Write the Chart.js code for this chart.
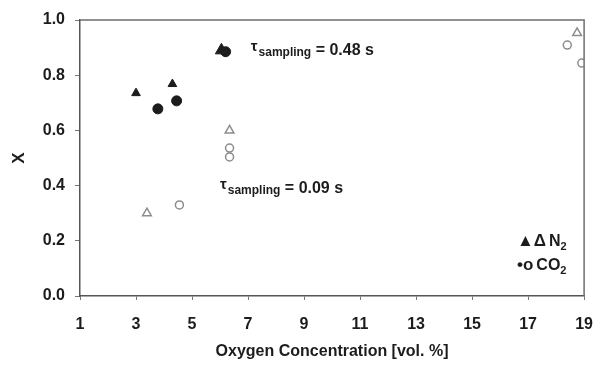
<!DOCTYPE html>
<html>
<head>
<meta charset="utf-8">
<script src="https://cdn.jsdelivr.net/npm/chart.js@4.4.1/dist/chart.umd.min.js"></script>
<style>
  html, body { margin: 0; padding: 0; background: #fff; }
  #wrap { width: 608px; height: 365px; position: relative; }
</style>
</head>
<body>
<div id="wrap"><canvas id="conv"></canvas></div>
<script>
// tau_sampling = 0.48 s (filled symbols)
const slowN2X = [3.0, 4.3, 6.05];
const slowN2Y = [0.735, 0.768, 0.89];
const slowCO2X = [3.78, 4.45, 6.2];
const slowCO2Y = [0.678, 0.707, 0.885];

// tau_sampling = 0.09 s (open symbols)
const fastN2X = [3.39, 6.34, 18.75];
const fastN2Y = [0.30, 0.60, 0.953];
const fastCO2X = [4.55, 6.34, 6.34, 18.4, 18.92];
const fastCO2Y = [0.33, 0.536, 0.504, 0.909, 0.844];

const xTicks = [1, 3, 5, 7, 9, 11, 13, 15, 17, 19];
const yTicks = [0.0, 0.2, 0.4, 0.6, 0.8, 1.0];

const FONT = "'Liberation Sans', Arial, sans-serif";
const INK = '#1c1c1c';
const OPEN = '#8c8c8c';

function pts(xs, ys) {
  return xs.map((x, i) => ({ x: x, y: ys[i] }));
}

// white page, frame on top/right, and the text labels inside the plot
const decor = {
  id: 'decor',
  beforeDraw(chart) {
    const c = chart.ctx;
    c.save();
    c.fillStyle = '#fff';
    c.fillRect(0, 0, chart.width, chart.height);
    c.restore();
  },
  afterDraw(chart) {
    const c = chart.ctx;
    const a = chart.chartArea;
    const sx = chart.scales.x, sy = chart.scales.y;
    c.save();
    c.strokeStyle = '#6e6e6e';
    c.lineWidth = 1.5;
    c.beginPath();
    c.moveTo(a.left, a.top);
    c.lineTo(a.right, a.top);
    c.lineTo(a.right, a.bottom);
    c.stroke();

    c.fillStyle = INK;
    c.textBaseline = 'alphabetic';
    function tau(x, y, val) {
      c.font = 'bold 15px ' + FONT;
      c.fillText('τ', x, y - 1);
      x += c.measureText('τ').width + 1;
      c.font = 'bold 12px ' + FONT;
      c.fillText('sampling', x, y + 4);
      x += c.measureText('sampling').width;
      c.font = 'bold 16px ' + FONT;
      c.fillText(' = ' + val + ' s', x, y + 3);
    }
    tau(sx.getPixelForValue(7.1), sy.getPixelForValue(0.885), '0.48');
    tau(sx.getPixelForValue(6.0), sy.getPixelForValue(0.385), '0.09');

    // symbol key
    function key(x, y, sym, name) {
      c.font = 'bold 17px ' + FONT;
      c.fillText(sym, x, y);
      x += c.measureText(sym).width + 3;
      c.font = 'bold 16px ' + FONT;
      c.fillText(name, x, y);
      x += c.measureText(name).width;
      c.font = 'bold 11px ' + FONT;
      c.fillText('2', x, y + 4);
    }
    key(517, 246, '▲Δ', 'N');
    key(517, 270, '•o', 'CO');
    c.restore();
  }
};

new Chart(document.getElementById('conv'), {
  type: 'scatter',
  data: {
    datasets: [
      {
        label: 'N2 0.48 s',
        data: pts(slowN2X, slowN2Y),
        pointStyle: 'triangle',
        pointRadius: [5, 5, 7],
        backgroundColor: INK,
        borderColor: INK,
        borderWidth: 1
      },
      {
        label: 'CO2 0.48 s',
        data: pts(slowCO2X, slowCO2Y),
        pointStyle: 'circle',
        pointRadius: 5,
        backgroundColor: INK,
        borderColor: INK,
        borderWidth: 1
      },
      {
        label: 'N2 0.09 s',
        data: pts(fastN2X, fastN2Y),
        pointStyle: 'triangle',
        pointRadius: 5,
        backgroundColor: 'rgba(255,255,255,0)',
        borderColor: OPEN,
        borderWidth: 1.5
      },
      {
        label: 'CO2 0.09 s',
        data: pts(fastCO2X, fastCO2Y),
        pointStyle: 'circle',
        pointRadius: 4,
        backgroundColor: 'rgba(255,255,255,0)',
        borderColor: OPEN,
        borderWidth: 1.5
      }
    ]
  },
  options: {
    responsive: true,
    maintainAspectRatio: false,
    animation: false,
    layout: { padding: { top: 20, right: 16, left: 0, bottom: 0 } },
    plugins: {
      legend: { display: false },
      tooltip: { enabled: false }
    },
    scales: {
      x: {
        type: 'linear',
        min: 1,
        max: 19,
        afterBuildTicks(scale) { scale.ticks = xTicks.map(v => ({ value: v })); },
        afterFit(scale) { scale.height = 69; },
        border: { color: '#555', width: 1.5 },
        grid: { drawOnChartArea: false, drawTicks: true, tickLength: 4, color: '#777' },
        ticks: { color: INK, padding: 15, font: { family: FONT, size: 16, weight: 'bold' } },
        title: {
          display: true,
          text: 'Oxygen Concentration [vol. %]',
          color: INK,
          padding: { top: 4, bottom: 4 },
          font: { family: FONT, size: 16, weight: 'bold' }
        }
      },
      y: {
        type: 'linear',
        min: 0,
        max: 1,
        afterBuildTicks(scale) { scale.ticks = yTicks.map(v => ({ value: v })); },
        afterFit(scale) { scale.width = 80; },
        border: { color: '#555', width: 1.5 },
        grid: { drawOnChartArea: false, drawTicks: true, tickLength: 5, color: '#777' },
        ticks: {
          color: INK,
          padding: 10,
          font: { family: FONT, size: 16, weight: 'bold' },
          callback: v => v.toFixed(1)
        },
        title: {
          display: true,
          text: 'X',
          color: INK,
          padding: { top: 9, bottom: 4 },
          font: { family: FONT, size: 17, weight: 'bold' }
        }
      }
    }
  },
  plugins: [decor]
});
</script>
</body>
</html>
